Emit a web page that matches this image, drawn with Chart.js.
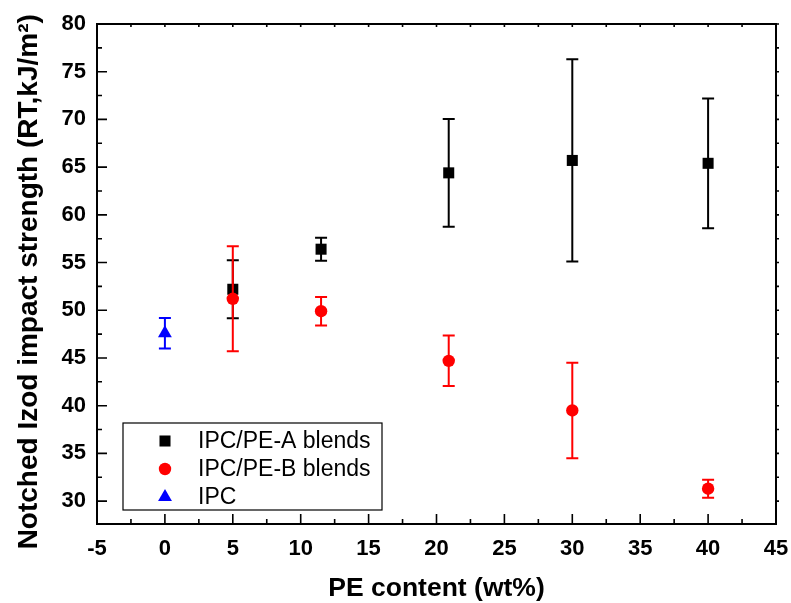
<!DOCTYPE html>
<html>
<head>
<meta charset="utf-8">
<script src="https://cdn.jsdelivr.net/npm/chart.js@4/dist/chart.umd.min.js"></script>
<style>
  body { margin: 0; background: #fff; }
  #box { width: 791px; height: 603px; }
</style>
</head>
<body>
<div id="box"><canvas id="myChart" width="791" height="603"></canvas></div>
<script>
// data
var xA = [5, 11.5, 20.9, 30, 40];
var yA = [52.2, 56.4, 64.4, 65.7, 65.4];
var errA = [3.05, 1.2, 5.65, 10.6, 6.8];

var xB = [5, 11.5, 20.9, 30, 40];
var yB = [51.2, 49.9, 44.7, 39.5, 31.3];
var errB = [5.5, 1.5, 2.65, 5.0, 0.95];

var xC = [0];
var yC = [47.6];
var errC = [1.6];

var seriesNames = ['IPC/PE-A blends', 'IPC/PE-B blends', 'IPC'];
var xTicks = [-5, 0, 5, 10, 15, 20, 25, 30, 35, 40, 45];
var yTicks = [30, 35, 40, 45, 50, 55, 60, 65, 70, 75, 80];

var FONT = "'Liberation Sans', Arial, sans-serif";

function toPoints(xs, ys) {
    var pts = [];
    for (var i = 0; i < xs.length; i++) {
        pts.push({x: xs[i], y: ys[i]});
    }
    return pts;
}

var errors = [errA, errB, errC];

// error bars, drawn right after each dataset so red sits over black
var errorBars = {
    id: 'errorBars',
    afterDatasetDraw: function(chart, args) {
        var ctx = chart.ctx;
        var ds = chart.data.datasets[args.index];
        var err = errors[args.index];
        var ys = chart.scales.y;
        ctx.save();
        ctx.strokeStyle = ds.borderColor;
        ctx.lineWidth = 2;
        args.meta.data.forEach(function(pt, i) {
            var v = ds.data[i].y;
            var top = ys.getPixelForValue(v + err[i]);
            var bot = ys.getPixelForValue(v - err[i]);
            ctx.beginPath();
            ctx.moveTo(pt.x, top); ctx.lineTo(pt.x, bot);
            ctx.moveTo(pt.x - 6, top); ctx.lineTo(pt.x + 6, top);
            ctx.moveTo(pt.x - 6, bot); ctx.lineTo(pt.x + 6, bot);
            ctx.stroke();
        });
        ctx.restore();
    }
};

// box frame plus inward ticks (major 10px, minor 5px)
var frame = {
    id: 'frame',
    afterDraw: function(chart) {
        var ctx = chart.ctx;
        var a = chart.chartArea;
        var xs = chart.scales.x, ys = chart.scales.y;
        ctx.save();
        ctx.strokeStyle = '#000';
        ctx.lineWidth = 2;
        ctx.strokeRect(a.left, a.top, a.right - a.left, a.bottom - a.top);
        ctx.lineWidth = 1.6;
        ctx.beginPath();
        for (var v = -5; v <= 45; v += 2.5) {
            var px = xs.getPixelForValue(v);
            var len = (v % 5 === 0) ? 10 : 5;
            ctx.moveTo(px, a.bottom); ctx.lineTo(px, a.bottom - len);
            ctx.moveTo(px, a.top); ctx.lineTo(px, a.top + 3);
        }
        for (var w = 30; w <= 80; w += 2.5) {
            var py = ys.getPixelForValue(w);
            var l2 = (w % 5 === 0) ? 10 : 5;
            ctx.moveTo(a.left, py); ctx.lineTo(a.left + l2, py);
            ctx.moveTo(a.right, py); ctx.lineTo(a.right + 3, py);
        }
        ctx.stroke();
        ctx.restore();
    }
};

// legend box in the lower left of the plot
var boxLegend = {
    id: 'boxLegend',
    afterDraw: function(chart) {
        var ctx = chart.ctx;
        var left = 123, top = 423, width = 259, height = 87;
        ctx.save();
        ctx.fillStyle = '#fff';
        ctx.fillRect(left, top, width, height);
        ctx.strokeStyle = '#000';
        ctx.lineWidth = 1.2;
        ctx.strokeRect(left, top, width, height);
        ctx.font = '23px ' + FONT;
        ctx.textBaseline = 'middle';
        var rows = [441, 469, 497];
        chart.data.datasets.forEach(function(ds, i) {
            ctx.fillStyle = ds.backgroundColor;
            ctx.strokeStyle = ds.borderColor;
            Chart.helpers.drawPoint(ctx, {
                pointStyle: ds.pointStyle,
                radius: ds.pointRadius,
                borderWidth: 0
            }, 165, rows[i]);
            ctx.fillStyle = '#000';
            ctx.fillText(seriesNames[i], 198, rows[i] + 1);
        });
        ctx.restore();
    }
};

var ctx = document.getElementById('myChart').getContext('2d');
var myChart = new Chart(ctx, {
    type: 'scatter',
    data: {
        datasets: [{
            label: seriesNames[0],
            data: toPoints(xA, yA),
            pointStyle: 'rect',
            pointRadius: 7.8,
            backgroundColor: '#000000',
            borderColor: '#000000',
            borderWidth: 0,
            order: 3
        }, {
            label: seriesNames[1],
            data: toPoints(xB, yB),
            pointStyle: 'circle',
            pointRadius: 6.2,
            backgroundColor: '#ff0000',
            borderColor: '#ff0000',
            borderWidth: 0,
            order: 2
        }, {
            label: seriesNames[2],
            data: toPoints(xC, yC),
            pointStyle: 'triangle',
            pointRadius: 8,
            backgroundColor: '#0000ff',
            borderColor: '#0000ff',
            borderWidth: 0,
            order: 1
        }]
    },
    options: {
        responsive: false,
        animation: false,
        layout: { padding: { top: 24, right: 15, left: 0, bottom: 0 } },
        plugins: {
            legend: { display: false },
            tooltip: { enabled: false }
        },
        scales: {
            x: {
                type: 'linear',
                min: -5,
                max: 45,
                afterBuildTicks: function(scale) {
                    scale.ticks = xTicks.map(function(v) { return {value: v}; });
                },
                afterFit: function(scale) {
                    scale.height = 79;
                    scale.paddingLeft = 0;
                    scale.paddingRight = 0;
                },
                grid: { display: false, drawTicks: false },
                border: { display: false },
                ticks: {
                    color: '#000',
                    padding: 12,
                    maxRotation: 0,
                    font: { family: FONT, size: 22, weight: 'bold' }
                },
                title: {
                    display: true,
                    text: 'PE content (wt%)',
                    color: '#000',
                    font: { family: FONT, size: 26.5, weight: 'bold', lineHeight: 1 },
                    padding: { top: 0, bottom: 1 }
                }
            },
            y: {
                type: 'linear',
                min: 27.6,
                max: 80,
                afterBuildTicks: function(scale) {
                    scale.ticks = yTicks.map(function(v) { return {value: v}; });
                },
                afterFit: function(scale) {
                    scale.width = 97;
                    scale.paddingTop = 0;
                    scale.paddingBottom = 0;
                },
                grid: { display: false, drawTicks: false },
                border: { display: false },
                ticks: {
                    color: '#000',
                    padding: 11,
                    font: { family: FONT, size: 22, weight: 'bold' }
                },
                title: {
                    display: true,
                    text: 'Notched Izod impact strength (RT,kJ/m²)\u00a0\u00a0',
                    color: '#000',
                    font: { family: FONT, size: 28, weight: 'bold', lineHeight: 1 },
                    padding: { top: 15, bottom: 0 }
                }
            }
        }
    },
    plugins: [errorBars, frame, boxLegend]
});
</script>
</body>
</html>
